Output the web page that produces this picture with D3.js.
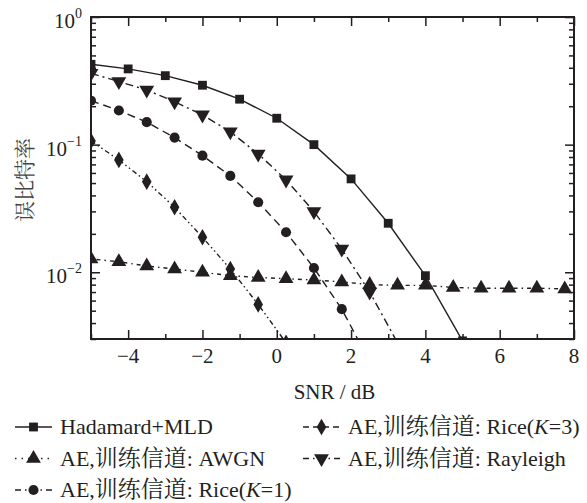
<!DOCTYPE html>
<html>
<head>
<meta charset="utf-8">
<script src="https://cdn.jsdelivr.net/npm/d3@7"></script>
<style>
    body { margin: 0; background: #fff; }
</style>
</head>
<body>
<div id="vis"></div>
<script>
// Data ----------------------------------------------------------------------
var snrHadamard = [-5, -4, -3, -2, -1, 0, 1, 2, 3, 4, 5];
var berHadamard = [0.426, 0.392, 0.347, 0.292, 0.227, 0.161, 0.100, 0.0539, 0.0242, 0.0094, 0.0029];

var snrAE = [-5, -4.25, -3.5, -2.75, -2, -1.25, -0.5, 0.25, 1, 1.75, 2.5, 3.25, 4, 4.75, 5.5, 6.25, 7, 7.75];
var berAWGN = [0.0127, 0.0121, 0.0112, 0.0106, 0.0100, 0.0094, 0.0091, 0.0089, 0.0087, 0.0084, 0.0080, 0.0079, 0.0079, 0.0076, 0.0075, 0.0075, 0.0075, 0.0074];
var berRayleigh = [0.362, 0.312, 0.268, 0.217, 0.171, 0.126, 0.0846, 0.053, 0.0299, 0.0152, 0.0070, 0.0028];
var berRice1 = [0.221, 0.185, 0.150, 0.1135, 0.082, 0.0569, 0.0354, 0.0206, 0.0108, 0.00514, 0.0020];
var berRice3 = [0.107, 0.0759, 0.0513, 0.0323, 0.0188, 0.0106, 0.0056, 0.0028];

var xMajorTicks = [-4, -2, 0, 2, 4, 6, 8];
var xMinorTicks = [-5, -3, -1, 1, 3, 5, 7];
var yMajorTicks = [1, 0.1, 0.01];
var yTickExp = ["0", "\u22121", "\u22122"];

var legendNames = ["Hadamard+MLD", "AE,训练信道: AWGN", "AE,训练信道: Rice(K=1)", "AE,训练信道: Rice(K=3)", "AE,训练信道: Rayleigh"];

// Set graph dimensions ------------------------------------------------------
var W = 587, H = 503;
var plot = { left: 91, right: 574, top: 17, bottom: 339 };
var ink = "#231f20";
var latin = "'Liberation Serif'";
var cjk = "'Noto Serif CJK SC'";

var x = d3.scaleLinear().domain([-5, 8]).range([plot.left, plot.right]);
var y = d3.scaleLog().domain([0.003, 1]).range([plot.bottom, plot.top]);

var svg = d3.select("#vis").append("svg")
    .attr("width", W)
    .attr("height", H);

svg.append("defs").append("clipPath")
    .attr("id", "clip")
    .append("rect")
    .attr("x", plot.left)
    .attr("y", plot.top)
    .attr("width", plot.right - plot.left)
    .attr("height", plot.bottom - plot.top);

// Series --------------------------------------------------------------------
var series = [
    { name: legendNames[0], xs: snrHadamard, ys: berHadamard, dash: null, marker: "square" },
    { name: legendNames[1], xs: snrAE, ys: berAWGN, dash: "1.5,4,4,4", marker: "triUp" },
    { name: legendNames[2], xs: snrAE, ys: berRice1, dash: "8,5", marker: "circle" },
    { name: legendNames[3], xs: snrAE, ys: berRice3, dash: "5,3,1.5,3,1.5,3", marker: "diamond" },
    { name: legendNames[4], xs: snrAE, ys: berRayleigh, dash: "8,4,2,4", marker: "triDown" }
];

var symbols = {
    square: d3.symbol().type(d3.symbolSquare).size(78),
    triUp: d3.symbol().type(d3.symbolTriangle).size(95),
    circle: d3.symbol().type(d3.symbolCircle).size(80),
    diamond: d3.symbol().type(d3.symbolDiamond).size(80),
    triDown: d3.symbol().type(d3.symbolTriangle).size(95)
};

function drawMarker(g, type, cx, cy) {
    g.append("path")
        .attr("d", symbols[type]())
        .attr("fill", ink)
        .attr("transform", "translate(" + cx + "," + cy + ")" + (type == "triDown" ? " rotate(180)" : ""));
}

var line = d3.line()
    .x(function(d) { return x(d[0]); })
    .y(function(d) { return y(d[1]); });

var plotArea = svg.append("g").attr("clip-path", "url(#clip)");

series.forEach(function(s) {
    var pts = s.ys.map(function(v, i) { return [s.xs[i], v]; });
    plotArea.append("path")
        .datum(pts)
        .attr("d", line)
        .attr("fill", "none")
        .attr("stroke", ink)
        .attr("stroke-width", 1.4)
        .attr("stroke-dasharray", s.dash);
    pts.forEach(function(p) {
        drawMarker(plotArea, s.marker, x(p[0]), y(p[1]));
    });
});

// Axes ----------------------------------------------------------------------
function styleAxis(g) {
    g.select(".domain").remove();
    g.selectAll("line").attr("stroke", ink).attr("stroke-width", 1.5);
    g.selectAll("text").remove();
}

svg.append("g")
    .attr("transform", "translate(0," + plot.bottom + ")")
    .call(d3.axisBottom(x).tickValues(xMajorTicks).tickSize(-9))
    .call(styleAxis);
svg.append("g")
    .attr("transform", "translate(0," + plot.bottom + ")")
    .call(d3.axisBottom(x).tickValues(xMinorTicks).tickSize(-5))
    .call(styleAxis);
svg.append("g")
    .attr("transform", "translate(0," + plot.top + ")")
    .call(d3.axisTop(x).tickValues(xMajorTicks).tickSize(-9))
    .call(styleAxis);
svg.append("g")
    .attr("transform", "translate(0," + plot.top + ")")
    .call(d3.axisTop(x).tickValues(xMinorTicks).tickSize(-5))
    .call(styleAxis);

var yMinor = y.ticks().filter(function(v) { return yMajorTicks.indexOf(v) < 0; });

svg.append("g")
    .attr("transform", "translate(" + plot.left + ",0)")
    .call(d3.axisLeft(y).tickValues(yMajorTicks).tickSize(-9))
    .call(styleAxis);
svg.append("g")
    .attr("transform", "translate(" + plot.left + ",0)")
    .call(d3.axisLeft(y).tickValues(yMinor).tickSize(-5))
    .call(styleAxis);
svg.append("g")
    .attr("transform", "translate(" + plot.right + ",0)")
    .call(d3.axisRight(y).tickValues(yMajorTicks).tickSize(-9))
    .call(styleAxis);
svg.append("g")
    .attr("transform", "translate(" + plot.right + ",0)")
    .call(d3.axisRight(y).tickValues(yMinor).tickSize(-5))
    .call(styleAxis);

// frame
svg.append("rect")
    .attr("x", plot.left)
    .attr("y", plot.top)
    .attr("width", plot.right - plot.left)
    .attr("height", plot.bottom - plot.top)
    .attr("fill", "none")
    .attr("stroke", ink)
    .attr("stroke-width", 2);

// Tick labels ---------------------------------------------------------------
svg.selectAll(".xlab")
    .data(xMajorTicks)
    .enter().append("text")
    .attr("class", "xlab")
    .attr("x", function(d) { return x(d); })
    .attr("y", plot.bottom + 24)
    .attr("text-anchor", "middle")
    .attr("font-size", 21)
    .style("font-family", latin)
    .attr("fill", ink)
    .text(function(d) { return d < 0 ? "\u2212" + Math.abs(d) : d; });

yMajorTicks.forEach(function(v, i) {
    var t = svg.append("text")
        .attr("x", plot.left - 9)
        .attr("y", y(v) + 11)
        .attr("text-anchor", "end")
        .attr("font-size", 21)
        .style("font-family", latin)
        .attr("fill", ink);
    t.append("tspan").style("font-family", latin).text("10");
    t.append("tspan")
        .attr("dy", -10)
        .attr("font-size", 14)
        .style("font-family", latin)
        .text(yTickExp[i]);
});

// Axis titles ---------------------------------------------------------------
svg.append("text")
    .attr("x", (plot.left + plot.right) / 2 + 2)
    .attr("y", 399)
    .attr("text-anchor", "middle")
    .attr("font-size", 21)
    .style("font-family", latin)
    .attr("fill", ink)
    .text("SNR / dB");

svg.append("text")
    .attr("transform", "translate(32," + 180 + ") rotate(-90)")
    .attr("text-anchor", "middle")
    .attr("font-size", 21)
    .style("font-family", cjk)
    .attr("fill", "#444")
    .text("误比特率");

// Legend --------------------------------------------------------------------
var legendPos = [
    { x: 15, y: 427 },
    { x: 15, y: 458.5 },
    { x: 15, y: 490 },
    { x: 303, y: 427 },
    { x: 303, y: 458.5 }
];
var legendDash = [null, "1.5,5", "6,4,1.5,4", "6,4", "6,4,1.5,4"];

series.forEach(function(s, i) {
    var p = legendPos[i];
    var g = svg.append("g").attr("transform", "translate(" + p.x + "," + p.y + ")");
    g.append("line")
        .attr("x1", 0).attr("x2", 37)
        .attr("stroke", ink)
        .attr("stroke-width", 1.6)
        .attr("stroke-dasharray", legendDash[i]);
    drawMarker(g, s.marker, 18.5, 0);
    var t = g.append("text")
        .attr("x", 45)
        .attr("y", 7)
        .attr("font-size", 22)
        .style("font-family", latin)
        .attr("fill", ink);
    // split into latin / CJK / italic K runs
    var parts = s.name.match(/[\u4e00-\u9fff]+|K|[^\u4e00-\u9fffK]+/g);
    parts.forEach(function(part) {
        var span = t.append("tspan").text(part);
        if (/[\u4e00-\u9fff]/.test(part)) {
            span.style("font-family", cjk).attr("font-size", 23);
        } else {
            span.style("font-family", latin);
            if (part == "K") span.attr("font-style", "italic");
        }
    });
});
</script>
</body>
</html>
